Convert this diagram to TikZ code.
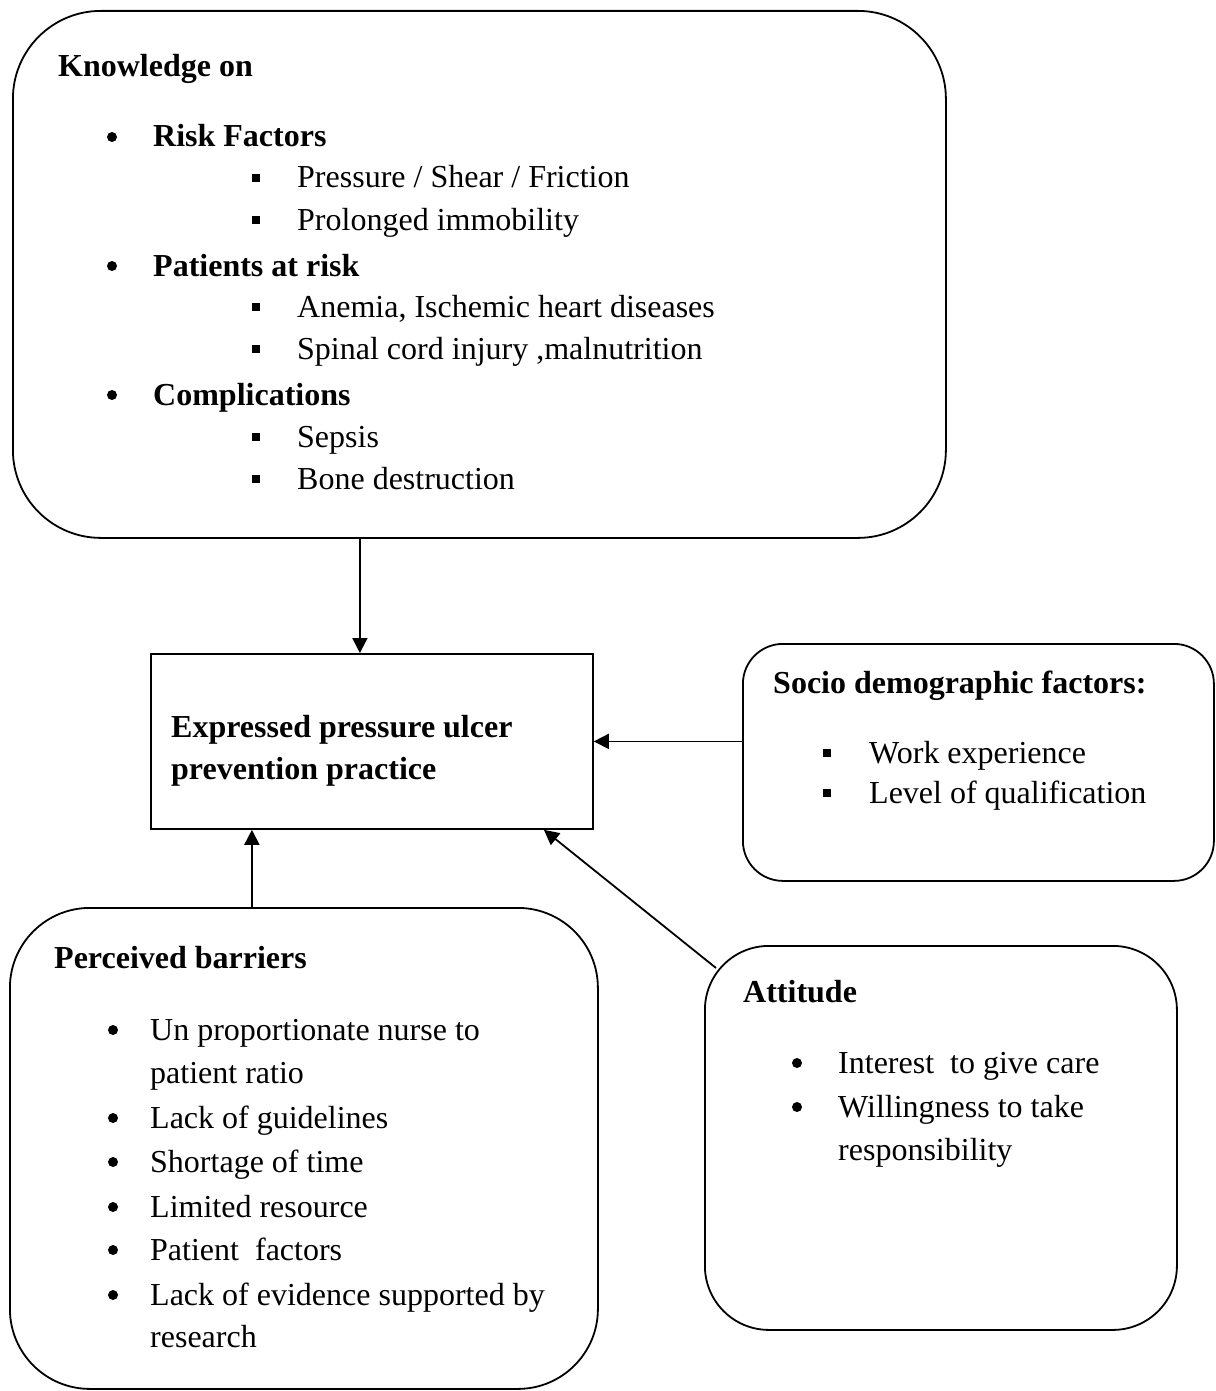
\documentclass[tikz,border=0pt]{standalone}
\usepackage{fontspec}
\setmainfont{Liberation Serif}
\usetikzlibrary{arrows.meta}
\begin{document}
\begin{tikzpicture}[x=1pt,y=-1pt,
  rbox/.style={draw=black, line width=1.8pt, rounded corners=#1, inner sep=0pt, anchor=north west},
  rbox/.default=40pt,
  sbox/.style={draw=black, line width=1.8pt, inner sep=0pt, anchor=north west},
  txt/.style={anchor=base west, inner sep=0pt, font=\fontsize{32}{42}\selectfont},
  btxt/.style={txt, font=\fontsize{32}{42}\selectfont\bfseries},
  dotb/.style={circle, fill=black, inner sep=0pt, minimum size=10pt},
  sqb/.style={rectangle, fill=black, inner sep=0pt, minimum size=8.5pt},
  arr/.style={-{Triangle[length=15pt,width=15pt]}, line width=1.8pt}]

\fill[white] (0,0) rectangle (1215,1391);
\useasboundingbox (0,0) rectangle (1215,1391);

% boxes
\node[rbox=88pt, minimum width=933pt, minimum height=527pt] (topbox) at (12,10) {};
\node[sbox, minimum width=442pt, minimum height=175pt] (pp) at (150,653) {};
\node[rbox=40pt, minimum width=471pt, minimum height=237pt] (socio) at (742,643) {};
\node[rbox=80pt, minimum width=588pt, minimum height=481pt] (barr) at (9,907) {};
\node[rbox=64pt, minimum width=472pt, minimum height=384pt] (att) at (704,945) {};

% top box text
\node[btxt] (kn) at (58,77) {Knowledge on};
\node[dotb] (d1) at (112,137) {};
\node[btxt] (rf) at (153,147) {Risk Factors};
\node[sqb] (s1) at (256,178) {};
\node[txt] (t1) at (297,188) {Pressure / Shear / Friction};
\node[sqb] (s2) at (256,220) {};
\node[txt] (t2) at (297,230) {Prolonged immobility};
\node[dotb] (d2) at (112,266) {};
\node[btxt] (par) at (153,276) {Patients at risk};
\node[sqb] (s3) at (256,307) {};
\node[txt] (t3) at (297,317) {Anemia, Ischemic heart diseases};
\node[sqb] (s4) at (256,349) {};
\node[txt] (t4) at (297,359) {Spinal cord injury ,malnutrition};
\node[dotb] (d3) at (112,395) {};
\node[btxt] (cp) at (153,405) {Complications};
\node[sqb] (s5) at (256,437) {};
\node[txt] (t5) at (297,447) {Sepsis};
\node[sqb] (s6) at (256,479) {};
\node[txt] (t6) at (297,489) {Bone destruction};

% central box text
\node[btxt] (pp1) at (171,737) {Expressed pressure ulcer};
\node[btxt] (pp2) at (171,779) {prevention practice};

% socio text
\node[btxt] (sh) at (773,693) {Socio demographic factors:};
\node[sqb] (s7) at (827,753) {};
\node[txt] (t7) at (869,763) {Work experience};
\node[sqb] (s8) at (827,793) {};
\node[txt] (t8) at (869,803) {Level of qualification};

% barriers text
\node[btxt] (bh) at (54,968) {Perceived barriers};
\node[dotb] (d4) at (113,1030) {};
\node[txt] (b1) at (150,1040) {Un proportionate nurse to};
\node[txt] (b1b) at (150,1083) {patient ratio};
\node[dotb] (d5) at (113,1118) {};
\node[txt] (b2) at (150,1128) {Lack of guidelines};
\node[dotb] (d6) at (113,1162) {};
\node[txt] (b3) at (150,1172) {Shortage of time};
\node[dotb] (d7) at (113,1207) {};
\node[txt] (b4) at (150,1217) {Limited resource};
\node[dotb] (d8) at (113,1250) {};
\node[txt] (b5) at (150,1260) {Patient\ \ factors};
\node[dotb] (d9) at (113,1295) {};
\node[txt] (b6) at (150,1305) {Lack of evidence supported by};
\node[txt] (b6b) at (150,1347) {research};

% attitude text
\node[btxt] (ah) at (743,1002) {Attitude};
\node[dotb] (d10) at (797,1063) {};
\node[txt] (a1t) at (838,1073) {Interest\ \ to give care};
\node[dotb] (d11) at (797,1107) {};
\node[txt] (a2t) at (838,1117) {Willingness to take};
\node[txt] (a2b) at (838,1160) {responsibility};

% connectors
\coordinate (c1) at ([xshift=-12pt]pp.north);
\draw[arr] (topbox.south -| c1) -- (c1);
\draw[arr] (socio.west |- pp.east) -- (pp.east);
\coordinate (c3) at ([xshift=-120pt]pp.south);
\draw[arr] (barr.north -| c3) -- (c3);
\coordinate (c4) at ([xshift=172pt]pp.south);
\coordinate (c4s) at ([xshift=12pt,yshift=-23pt]att.north west);
\draw[arr] (c4s) -- (c4);
\end{tikzpicture}
\end{document}
